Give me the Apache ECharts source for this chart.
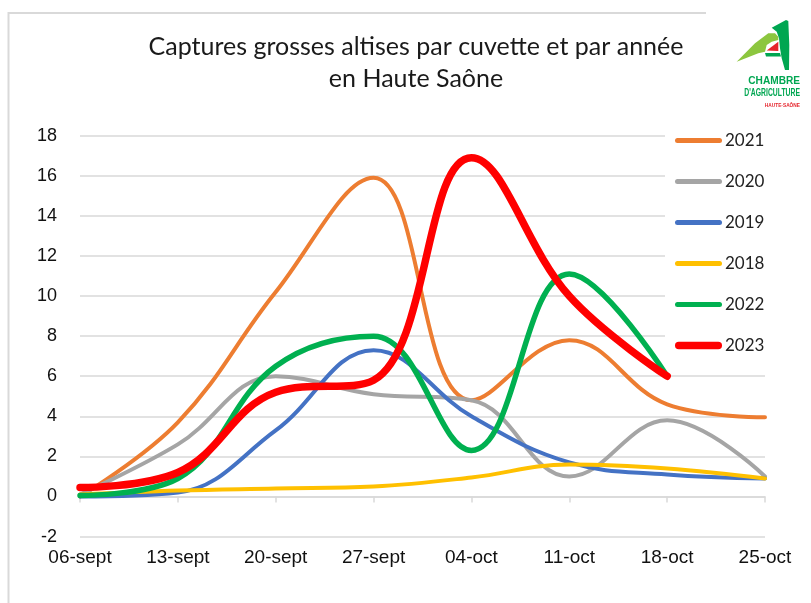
<!DOCTYPE html>
<html>
<head>
<meta charset="utf-8">
<script src="https://cdn.jsdelivr.net/npm/echarts@6/dist/echarts.min.js"></script>
<style>
html,body{margin:0;padding:0;background:#fff;}
#chart{width:811px;height:603px;}
</style>
</head>
<body>
<div id="chart"></div>
<script>
const categories = ['06-sept','13-sept','20-sept','27-sept','04-oct','11-oct','18-oct','25-oct'];
const yTicks = [-2,0,2,4,6,8,10,12,14,16,18];
const s2021 = [0, 3.7, 10.2, 15.9, 4.8, 7.8, 4.6, 3.95];
const s2020 = [0.1, 2.6, 6.0, 5.1, 4.8, 1.0, 3.8, 1.0];
const s2019 = [0, 0.2, 3.3, 7.3, 4.0, 1.7, 1.1, 0.9];
const s2018 = [0.1, 0.3, 0.4, 0.5, 0.95, 1.6, 1.4, 0.9];
const s2022 = [0.05, 0.9, 6.5, 8.0, 2.3, 11.1, 6.0];
const s2023 = [0.45, 1.2, 5.2, 5.8, 16.9, 10.0, 6.0];
const seriesNames = ['2021','2020','2019','2018','2022','2023'];
const seriesValues = [s2021, s2020, s2019, s2018, s2022, s2023];
const seriesColors = ['#ED7D31','#A5A5A5','#4472C4','#FFC000','#00B050','#FF0000'];
const seriesWidths = [4, 4, 4, 4, 5.5, 7.5];

function iconPath(h){
  const r = h/2, w = 47;
  return 'path://M'+r+',0 L'+(w-r)+',0 A'+r+','+r+' 0 0 1 '+(w-r)+','+h+' L'+r+','+h+' A'+r+','+r+' 0 0 1 '+r+',0 Z';
}

const chart = echarts.init(document.getElementById('chart'), null, {renderer:'canvas'});
const option = {
  backgroundColor: '#fff',
  animation: false,
  grid: {left: 80, right: 46, top: 135.7, bottom: 66.4, containLabel: false},
  xAxis: {
    type: 'category',
    data: categories,
    boundaryGap: false,
    axisLine: {onZero: true, lineStyle: {color: '#d9d9d9', width: 1.5}},
    axisTick: {show: true, length: 6, lineStyle: {color: '#d9d9d9', width: 1.5}},
    axisLabel: {margin: 12, color: '#111', fontFamily: 'Liberation Sans', fontSize: 19},
    splitLine: {show: false}
  },
  yAxis: {
    type: 'value',
    min: yTicks[0], max: yTicks[yTicks.length-1], interval: 2,
    axisLine: {show: false},
    axisTick: {show: false},
    axisLabel: {margin: 23, color: '#111', fontFamily: 'Liberation Sans', fontSize: 18},
    splitLine: {lineStyle: {color: '#d9d9d9', width: 1.5}}
  },
  legend: {
    orient: 'vertical',
    left: 665, top: 120,
    padding: [12, 50, 12, 10],
    backgroundColor: '#fff',
    itemWidth: 47, itemHeight: 7.5,
    itemGap: 24,
    textStyle: {fontFamily: 'Lato', fontSize: 17, color: '#222', lineHeight: 17, padding: [0,0,0,-2]},
    data: seriesNames.map((n, i) => ({name: n, icon: iconPath(i === 5 ? 7.5 : 5)}))
  },
  series: seriesNames.map((n, i) => ({
    name: n,
    type: 'line',
    data: seriesValues[i],
    smooth: 0.4,
    symbol: 'none',
    color: seriesColors[i],
    lineStyle: {color: seriesColors[i], width: seriesWidths[i], cap: 'round', join: 'round'},
    z: 2 + i
  })),
  graphic: [
    {type: 'rect', silent: true, shape: {x: 8.5, y: 13, width: 820, height: 620}, style: {fill: 'none', stroke: '#d9d9d9', lineWidth: 2}, z: 0},
    {type: 'rect', silent: true, shape: {x: 706, y: 4, width: 105, height: 112}, style: {fill: '#fff'}, z: 1},
    {type: 'text', x: 416, y: 47, style: {text: 'Captures grosses altises par cuvette et par année', font: '25px Lato', fill: '#1a1a1a', textAlign: 'center', textVerticalAlign: 'middle'}},
    {type: 'text', x: 416, y: 79, style: {text: 'en Haute Saône', font: '25px Lato', fill: '#1a1a1a', textAlign: 'center', textVerticalAlign: 'middle'}},
    {type: 'polygon', silent: true, shape: {points: [[736.7,61.7],[755,43.3],[768.3,33.3],[775,33.3],[778.3,36.7],[778.3,40],[771.7,41.7],[766.7,45],[765,51.7],[758.3,53.3]]}, style: {fill: '#8CC63F'}, z: 2},
    {type: 'polygon', silent: true, shape: {points: [[771.7,27.7],[786,20],[788.3,21],[789.3,45],[789,70],[785,70],[781.7,58.3],[780,48.3],[779,38.3],[776.7,31.7]]}, style: {fill: '#00A651'}, z: 2},
    {type: 'polygon', silent: true, shape: {points: [[765,53],[780,53],[781,56.5],[766,56.5]]}, style: {fill: '#00A651'}, z: 2},
    {type: 'polygon', silent: true, shape: {points: [[766.7,50.5],[778.3,41.7],[778.3,51]]}, style: {fill: '#E5232B'}, z: 3},
    {type: 'text', x: 800, y: 81, scaleX: 0.92, style: {text: 'CHAMBRE', font: 'bold 11px "Liberation Sans"', fill: '#00A651', textAlign: 'right', textVerticalAlign: 'middle'}, z: 3},
    {type: 'text', x: 800, y: 92.5, scaleX: 0.62, style: {text: "D'AGRICULTURE", font: 'bold 11px "Liberation Sans"', fill: '#00A651', textAlign: 'right', textVerticalAlign: 'middle'}, z: 3},
    {type: 'text', x: 800, y: 105, scaleX: 0.8, style: {text: 'HAUTE-SAÔNE', font: 'bold 6px "Liberation Sans"', fill: '#E5232B', textAlign: 'right', textVerticalAlign: 'middle'}, z: 3}
  ]
};
chart.setOption(option);
</script>
</body>
</html>
